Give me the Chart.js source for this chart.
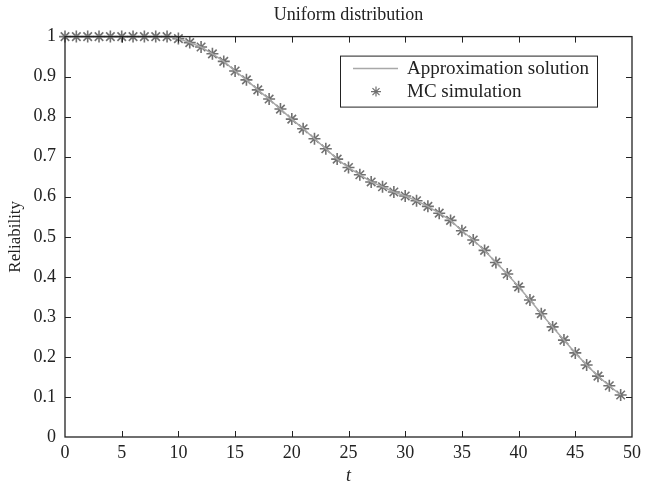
<!DOCTYPE html>
<html>
<head>
<meta charset="utf-8">
<script src="https://cdn.jsdelivr.net/npm/chart.js@4/dist/chart.umd.min.js"></script>
<style>
html, body { margin: 0; padding: 0; background: #fff; }
#wrap { width: 646px; height: 487px; }
</style>
</head>
<body>
<div id="wrap"><canvas id="relChart" width="646" height="487"></canvas></div>
<script>
// time steps
const t = [0,1,2,3,4,5,6,7,8,9,10,11,12,13,14,15,16,17,18,19,20,21,22,23,24,
           25,26,27,28,29,30,31,32,33,34,35,36,37,38,39,40,41,42,43,44,45,46,47,48,49];

// reliability
const approx = [1,1,1,1,1,1,1,1,1,1,0.995,0.985,0.974,0.957,0.938,0.914,0.892,0.867,0.844,0.819,
                0.794,0.770,0.745,0.720,0.694,0.673,0.655,0.637,0.625,0.612,0.602,0.590,0.576,0.559,0.541,
                0.515,0.492,0.466,0.436,0.407,0.375,0.342,0.308,0.275,0.242,0.210,0.180,0.152,0.128,0.105];
const mc = [1,1,1,1,1,1,1,1,1,1,0.995,0.985,0.974,0.957,0.938,0.914,0.892,0.867,0.844,0.819,
            0.794,0.770,0.745,0.720,0.694,0.673,0.655,0.637,0.625,0.612,0.602,0.590,0.576,0.559,0.541,
            0.515,0.492,0.466,0.436,0.407,0.375,0.342,0.308,0.275,0.242,0.210,0.180,0.152,0.128,0.105];

const xTicks = [0,5,10,15,20,25,30,35,40,45,50];
const yTicks = [0,0.1,0.2,0.3,0.4,0.5,0.6,0.7,0.8,0.9,1];

const serif = '"Liberation Serif", "DejaVu Serif", serif';
const ink = '#222';

// box round the plot + ticks pointing inwards on all four sides
const frameTicks = {
  id: 'frameTicks',
  afterDraw(chart) {
    const {ctx, chartArea: {left, right, top, bottom}, scales: {x, y}} = chart;
    const len = 6;
    ctx.save();
    ctx.strokeStyle = ink;
    ctx.lineWidth = 1;
    ctx.beginPath();
    xTicks.forEach(v => {
      if (v === x.min || v === x.max) return;
      const px = Math.round(x.getPixelForValue(v)) + 0.5;
      ctx.moveTo(px, bottom); ctx.lineTo(px, bottom - len);
      ctx.moveTo(px, top); ctx.lineTo(px, top + len);
    });
    yTicks.forEach(v => {
      if (v === y.min || v === y.max) return;
      const py = Math.round(y.getPixelForValue(v)) + 0.5;
      ctx.moveTo(left, py); ctx.lineTo(left + len, py);
      ctx.moveTo(right, py); ctx.lineTo(right - len, py);
    });
    ctx.stroke();
    ctx.lineWidth = 1.3;
    ctx.strokeRect(left, top, right - left, bottom - top);
    ctx.restore();
  }
};

// legend box inside the plot, top right
const boxLegend = {
  id: 'boxLegend',
  afterDraw(chart) {
    const {ctx, chartArea: {right, top}} = chart;
    const ds = chart.data.datasets;
    const w = 257, h = 51;
    const bx = right - 35 - w, by = top + 19;
    ctx.save();
    ctx.fillStyle = '#fff';
    ctx.fillRect(bx, by, w, h);
    ctx.strokeStyle = ink;
    ctx.lineWidth = 1;
    ctx.strokeRect(bx + 0.5, by + 0.5, w, h);
    ctx.font = '19px ' + serif;
    ctx.fillStyle = ink;
    ctx.textBaseline = 'middle';
    const row1 = by + 13, row2 = by + 36;
    // line sample
    ctx.strokeStyle = ds[0].borderColor;
    ctx.lineWidth = 1.5;
    ctx.beginPath();
    ctx.moveTo(bx + 13, row1); ctx.lineTo(bx + 58, row1);
    ctx.stroke();
    ctx.fillText(ds[0].label, bx + 67, row1);
    // star sample
    ctx.strokeStyle = ds[1].pointBorderColor;
    ctx.lineWidth = 1.2;
    Chart.helpers.drawPoint(ctx, {pointStyle: 'star', radius: 5, borderWidth: 1.2}, bx + 36, row2);
    ctx.fillText(ds[1].label, bx + 67, row2);
    ctx.restore();
  }
};

const fmt = v => String(Number(v.toFixed(2)));

new Chart(document.getElementById('relChart').getContext('2d'), {
  type: 'line',
  data: {
    datasets: [
      {
        label: 'Approximation solution',
        data: t.map((v, i) => ({x: v, y: approx[i]})),
        borderColor: '#a8a8a8',
        borderWidth: 1.5,
        pointRadius: 0,
        fill: false,
        tension: 0,
        clip: false
      },
      {
        label: 'MC simulation',
        data: t.map((v, i) => ({x: v, y: mc[i]})),
        showLine: false,
        pointStyle: 'star',
        pointRadius: 6,
        pointBorderWidth: 1.6,
        pointBorderColor: '#707070',
        pointBackgroundColor: '#707070',
        borderColor: '#707070',
        clip: false
      }
    ]
  },
  options: {
    responsive: false,
    animation: false,
    devicePixelRatio: 1,
    layout: {
      padding: {left: 0, right: 10, top: 0, bottom: 0}
    },
    plugins: {
      legend: {display: false},
      tooltip: {enabled: false},
      title: {
        display: true,
        fullSize: false,
        text: 'Uniform distribution',
        color: ink,
        font: {family: serif, size: 18, weight: 'normal', lineHeight: 1.2},
        padding: {top: 4, bottom: 11}
      }
    },
    scales: {
      x: {
        type: 'linear',
        min: 0,
        max: 50,
        afterBuildTicks: s => { s.ticks = xTicks.map(v => ({value: v})); },
        afterFit: s => { s.height = 50; },
        grid: {display: false, drawTicks: false},
        border: {display: false},
        ticks: {
          color: ink,
          padding: 5,
          maxRotation: 0,
          callback: fmt,
          font: {family: serif, size: 18}
        },
        title: {
          display: true,
          text: 't',
          color: ink,
          padding: {top: 1, bottom: 0},
          font: {family: serif, size: 18, style: 'italic'}
        }
      },
      y: {
        min: 0,
        max: 1,
        afterBuildTicks: s => { s.ticks = yTicks.map(v => ({value: v})); },
        afterFit: s => { s.width = 65; },
        grid: {display: false, drawTicks: false},
        border: {display: false},
        ticks: {
          color: ink,
          padding: 9,
          callback: fmt,
          font: {family: serif, size: 18}
        },
        title: {
          display: true,
          text: 'Reliability',
          color: ink,
          padding: {top: 5, bottom: 0},
          font: {family: serif, size: 17}
        }
      }
    }
  },
  plugins: [frameTicks, boxLegend]
});
</script>
</body>
</html>
